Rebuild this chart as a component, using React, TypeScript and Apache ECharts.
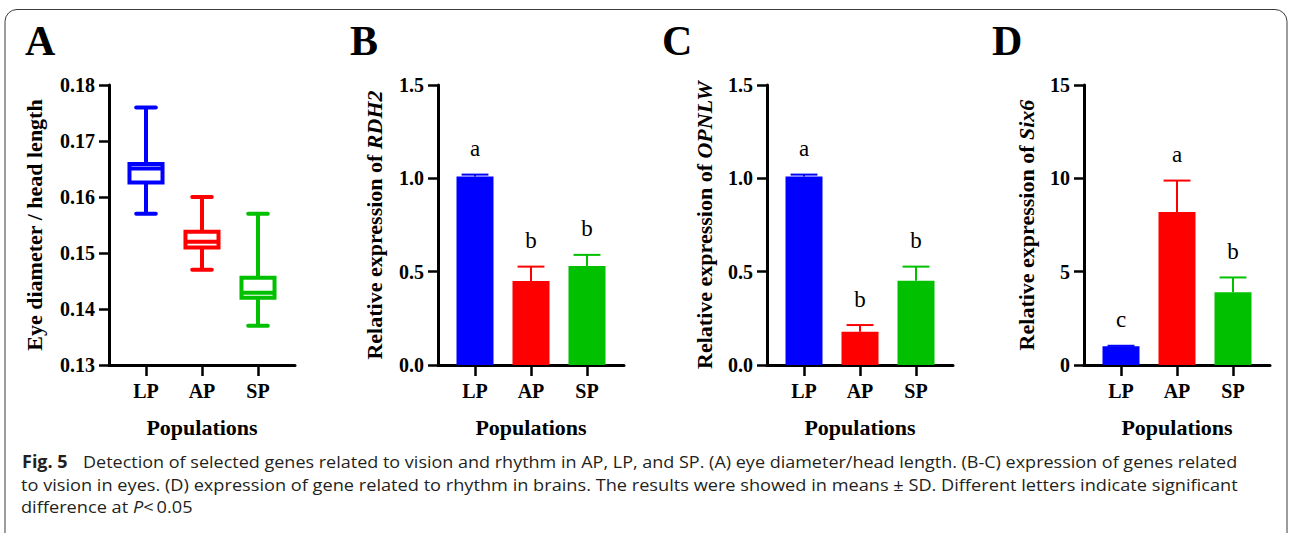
import React, { useEffect, useRef } from 'react';
import * as echarts from 'echarts';

// ---------------- data ----------------
const categories = ['LP', 'AP', 'SP'];

// Panel A: eye diameter / head length, [min, Q1, median, Q3, max]
const eyeRatioBox = [
  [0.157, 0.1626, 0.1651, 0.1659, 0.176],
  [0.147, 0.151, 0.152, 0.1538, 0.16],
  [0.137, 0.142, 0.1429, 0.1456, 0.157],
];
const eyeRatioAxis = [0.13, 0.18, 0.01];

// Panel B: RDH2
const rdh2Mean = [1.01, 0.45, 0.53];
const rdh2Sd = [0.01, 0.077, 0.06];
const rdh2Letters = ['a', 'b', 'b'];
const rdh2Axis = [0, 1.5, 0.5];

// Panel C: OPNLW
const opnlwMean = [1.01, 0.178, 0.452];
const opnlwSd = [0.01, 0.036, 0.075];
const opnlwLetters = ['a', 'b', 'b'];
const opnlwAxis = [0, 1.5, 0.5];

// Panel D: Six6
const six6Mean = [1.0, 8.2, 3.9];
const six6Sd = [0.03, 1.68, 0.79];
const six6Letters = ['c', 'a', 'b'];
const six6Axis = [0, 15, 5];

const captionLine1Head = 'Fig. 5';
const captionLine1 =
  'Detection of selected genes related to vision and rhythm in AP, LP, and SP. (A) eye diameter/head length. (B-C) expression of genes related';
const captionLine2 =
  'to vision in eyes. (D) expression of gene related to rhythm in brains. The results were showed in means \u00b1 SD. Different letters indicate significant';
const captionLine3a = 'difference at ';
const captionLine3b = 'P';
const captionLine3c = '<\u20090.05';

// ---------------- style ----------------
const palette = ['#0000ff', '#ff0000', '#00c000'];
const SERIF = '"Liberation Serif", "Times New Roman", serif';
const SANS = '"Open Sans", "Noto Sans", sans-serif';

function measure(font: string, s: string) {
  const c = document.createElement('canvas').getContext('2d') as CanvasRenderingContext2D;
  c.font = font;
  return c.measureText(s).width;
}

type PanelDef = {
  letter: string;
  axisX: number;
  letterX: number;
  range: number[];
  fmt: (v: number) => string;
  name: string;
  nameGap: number;
};

const panels: PanelDef[] = [
  { letter: 'A', axisX: 109, letterX: 25, range: eyeRatioAxis, fmt: (v) => v.toFixed(2), name: 'Eye diameter / head length', nameGap: 64 },
  { letter: 'B', axisX: 438, letterX: 350, range: rdh2Axis, fmt: (v) => v.toFixed(1), name: '{n|Relative expression of }{i|RDH2}', nameGap: 53 },
  { letter: 'C', axisX: 767, letterX: 662, range: opnlwAxis, fmt: (v) => v.toFixed(1), name: '{n|Relative expression of }{i|OPNLW}', nameGap: 52 },
  { letter: 'D', axisX: 1084, letterX: 992, range: six6Axis, fmt: (v) => String(Math.round(v)), name: '{n|Relative expression of }{i|Six6}', nameGap: 47 },
];

const TOP = 85;
const H = 280;

function buildOption() {
  const grid: any[] = [];
  const xAxis: any[] = [];
  const yAxis: any[] = [];
  const series: any[] = [];
  const graphic: any[] = [];

  panels.forEach((p, k) => {
    const fi = 2 * k;
    const di = 2 * k + 1;
    grid.push({ left: p.axisX, top: TOP, width: 186, height: H });
    grid.push({ left: p.axisX + 9, top: TOP, width: 168, height: H });

    xAxis.push({
      gridIndex: fi, type: 'value', min: 0, max: 1,
      axisLine: { show: true, lineStyle: { color: '#000', width: 3 } },
      axisTick: { show: false }, axisLabel: { show: false }, splitLine: { show: false },
    });
    xAxis.push({
      gridIndex: di, type: 'category', data: categories,
      axisLine: { show: false },
      axisTick: { show: true, alignWithLabel: true, length: 11, lineStyle: { color: '#000', width: 2.5 } },
      axisLabel: { margin: 16, color: '#000', fontFamily: SERIF, fontWeight: 'bold', fontSize: 20 },
      name: 'Populations', nameLocation: 'middle', nameGap: 51,
      nameTextStyle: { color: '#000', fontFamily: SERIF, fontWeight: 'bold', fontSize: 22 },
      splitLine: { show: false },
    });
    yAxis.push({
      gridIndex: fi, type: 'value', min: p.range[0], max: p.range[1], interval: p.range[2],
      axisLine: { show: true, lineStyle: { color: '#000', width: 3 } },
      axisTick: { show: true, length: 10, lineStyle: { color: '#000', width: 2.5 } },
      axisLabel: { margin: 14, color: '#000', fontFamily: SERIF, fontWeight: 'bold', fontSize: 20, formatter: p.fmt },
      splitLine: { show: false },
      name: p.name, nameLocation: 'middle', nameGap: p.nameGap, nameRotate: 90,
      nameTextStyle: {
        color: '#000', fontFamily: SERIF, fontWeight: 'bold', fontSize: 22,
        rich: {
          n: { color: '#000', fontFamily: SERIF, fontWeight: 'bold', fontSize: 22 },
          i: { color: '#000', fontFamily: SERIF, fontWeight: 'bold', fontStyle: 'italic', fontSize: 22 },
        },
      },
    });
    yAxis.push({
      gridIndex: di, type: 'value', min: p.range[0], max: p.range[1], interval: p.range[2], show: false,
    });

    graphic.push({
      type: 'text', x: p.letterX, y: 41, silent: true,
      style: { text: p.letter, fill: '#000', fontFamily: SERIF, fontWeight: 'bold', fontSize: 42, verticalAlign: 'middle', align: 'left' },
    });
  });

  // Panel A boxplot (custom)
  series.push({
    type: 'custom', xAxisIndex: 1, yAxisIndex: 1,
    data: eyeRatioBox.map((r, i) => [i, ...r]),
    encode: { x: 0, y: [1, 2, 3, 4, 5] },
    renderItem: (params: any, api: any) => {
      const i = api.value(0);
      const mn = api.value(1), q1 = api.value(2), md = api.value(3), q3 = api.value(4), mx = api.value(5);
      const cx = api.coord([i, md])[0];
      const band = api.size([1, 0])[0];
      const bw = band * 0.59;
      const cw = band * 0.35;
      const y = (v: number) => api.coord([i, v])[1];
      const color = palette[params.dataIndex];
      const ls = { stroke: color, lineWidth: 4 };
      return {
        type: 'group',
        children: [
          { type: 'line', shape: { x1: cx, y1: y(mx), x2: cx, y2: y(q3) }, style: ls },
          { type: 'line', shape: { x1: cx, y1: y(q1), x2: cx, y2: y(mn) }, style: ls },
          { type: 'line', shape: { x1: cx - cw / 2, y1: y(mx), x2: cx + cw / 2, y2: y(mx) }, style: { ...ls, lineCap: 'round' } },
          { type: 'line', shape: { x1: cx - cw / 2, y1: y(mn), x2: cx + cw / 2, y2: y(mn) }, style: { ...ls, lineCap: 'round' } },
          { type: 'rect', shape: { x: cx - bw / 2, y: y(q3), width: bw, height: y(q1) - y(q3) }, style: { fill: '#fff', stroke: color, lineWidth: 4 } },
          { type: 'line', shape: { x1: cx - bw / 2, y1: y(md), x2: cx + bw / 2, y2: y(md) }, style: ls },
        ],
      };
    },
  });

  const barSets = [
    { mean: rdh2Mean, sd: rdh2Sd, letters: rdh2Letters, k: 1 },
    { mean: opnlwMean, sd: opnlwSd, letters: opnlwLetters, k: 2 },
    { mean: six6Mean, sd: six6Sd, letters: six6Letters, k: 3 },
  ];
  barSets.forEach((b) => {
    const di = 2 * b.k + 1;
    series.push({
      type: 'bar', xAxisIndex: di, yAxisIndex: di, barWidth: 37,
      data: b.mean.map((v, i) => ({ value: v, itemStyle: { color: palette[i] } })),
      z: 2,
    });
    series.push({
      type: 'custom', xAxisIndex: di, yAxisIndex: di, z: 3,
      data: b.mean.map((v, i) => [i, v, b.sd[i]]),
      encode: { x: 0, y: [1] },
      renderItem: (params: any, api: any) => {
        const i = api.value(0);
        const m = api.value(1);
        const s = api.value(2);
        const base = api.coord([i, m]);
        const top = api.coord([i, m + s]);
        const band = api.size([1, 0])[0];
        const cw = band * 0.48;
        const color = palette[params.dataIndex];
        const ls = { stroke: color, lineWidth: 2 };
        return {
          type: 'group',
          children: [
            { type: 'line', shape: { x1: base[0], y1: base[1], x2: top[0], y2: top[1] }, style: ls },
            { type: 'line', shape: { x1: top[0] - cw / 2, y1: top[1], x2: top[0] + cw / 2, y2: top[1] }, style: ls },
            {
              type: 'text', x: top[0], y: top[1] - 26,
              style: {
                text: b.letters[params.dataIndex], fill: '#000',
                fontFamily: SERIF, fontSize: 23, fontWeight: 'normal',
                align: 'center', verticalAlign: 'middle',
              },
            },
          ],
        };
      },
    });
  });

  // Border
  graphic.push({
    type: 'rect', silent: true, z: -10,
    shape: { x: 5, y: 9.5, width: 1282, height: 560, r: 12 },
    style: { fill: 'none', stroke: '#3a3a3a', lineWidth: 1 },
  });

  // Caption
  const sz = 17;
  const fReg = `${sz}px ${SANS}`;
  const fBold = `bold ${sz}px ${SANS}`;
  const fIt = `italic ${sz}px ${SANS}`;
  const capColor = '#231f20';
  const s1 = 1155 / measure(fReg, captionLine1);
  const s2 = 1217 / measure(fReg, captionLine2);
  const capStyle = (text: string, weight: string, style: string) => ({
    text, fontFamily: SANS, fontSize: sz, fontWeight: weight, fontStyle: style, fill: capColor, verticalAlign: 'middle',
  });
  graphic.push({ type: 'text', x: 22, y: 461, scaleX: s1, silent: true, style: capStyle(captionLine1Head, 'bold', 'normal') });
  graphic.push({ type: 'text', x: 83, y: 461, scaleX: s1, silent: true, style: capStyle(captionLine1, 'normal', 'normal') });
  graphic.push({ type: 'text', x: 21, y: 484, scaleX: s2, silent: true, style: capStyle(captionLine2, 'normal', 'normal') });
  const w3a = measure(fReg, captionLine3a);
  const w3b = measure(fIt, captionLine3b);
  graphic.push({ type: 'text', x: 21, y: 506, scaleX: s2, silent: true, style: capStyle(captionLine3a, 'normal', 'normal') });
  graphic.push({ type: 'text', x: 21 + w3a * s2, y: 506, scaleX: s2, silent: true, style: capStyle(captionLine3b, 'normal', 'italic') });
  graphic.push({ type: 'text', x: 21 + (w3a + w3b) * s2, y: 506, scaleX: s2, silent: true, style: capStyle(captionLine3c, 'normal', 'normal') });

  return { animation: false, backgroundColor: '#fff', grid, xAxis, yAxis, series, graphic };
}

export default function App() {
  const ref = useRef<HTMLDivElement>(null);
  useEffect(() => {
    if (!ref.current) return;
    const chart = echarts.init(ref.current, undefined, { renderer: 'svg' });
    chart.setOption(buildOption() as any);
    return () => chart.dispose();
  }, []);
  return (
    <div
      ref={ref}
      style={{ position: 'absolute', left: 0, top: 0, width: 1290, height: 533, background: '#fff' }}
    />
  );
}
